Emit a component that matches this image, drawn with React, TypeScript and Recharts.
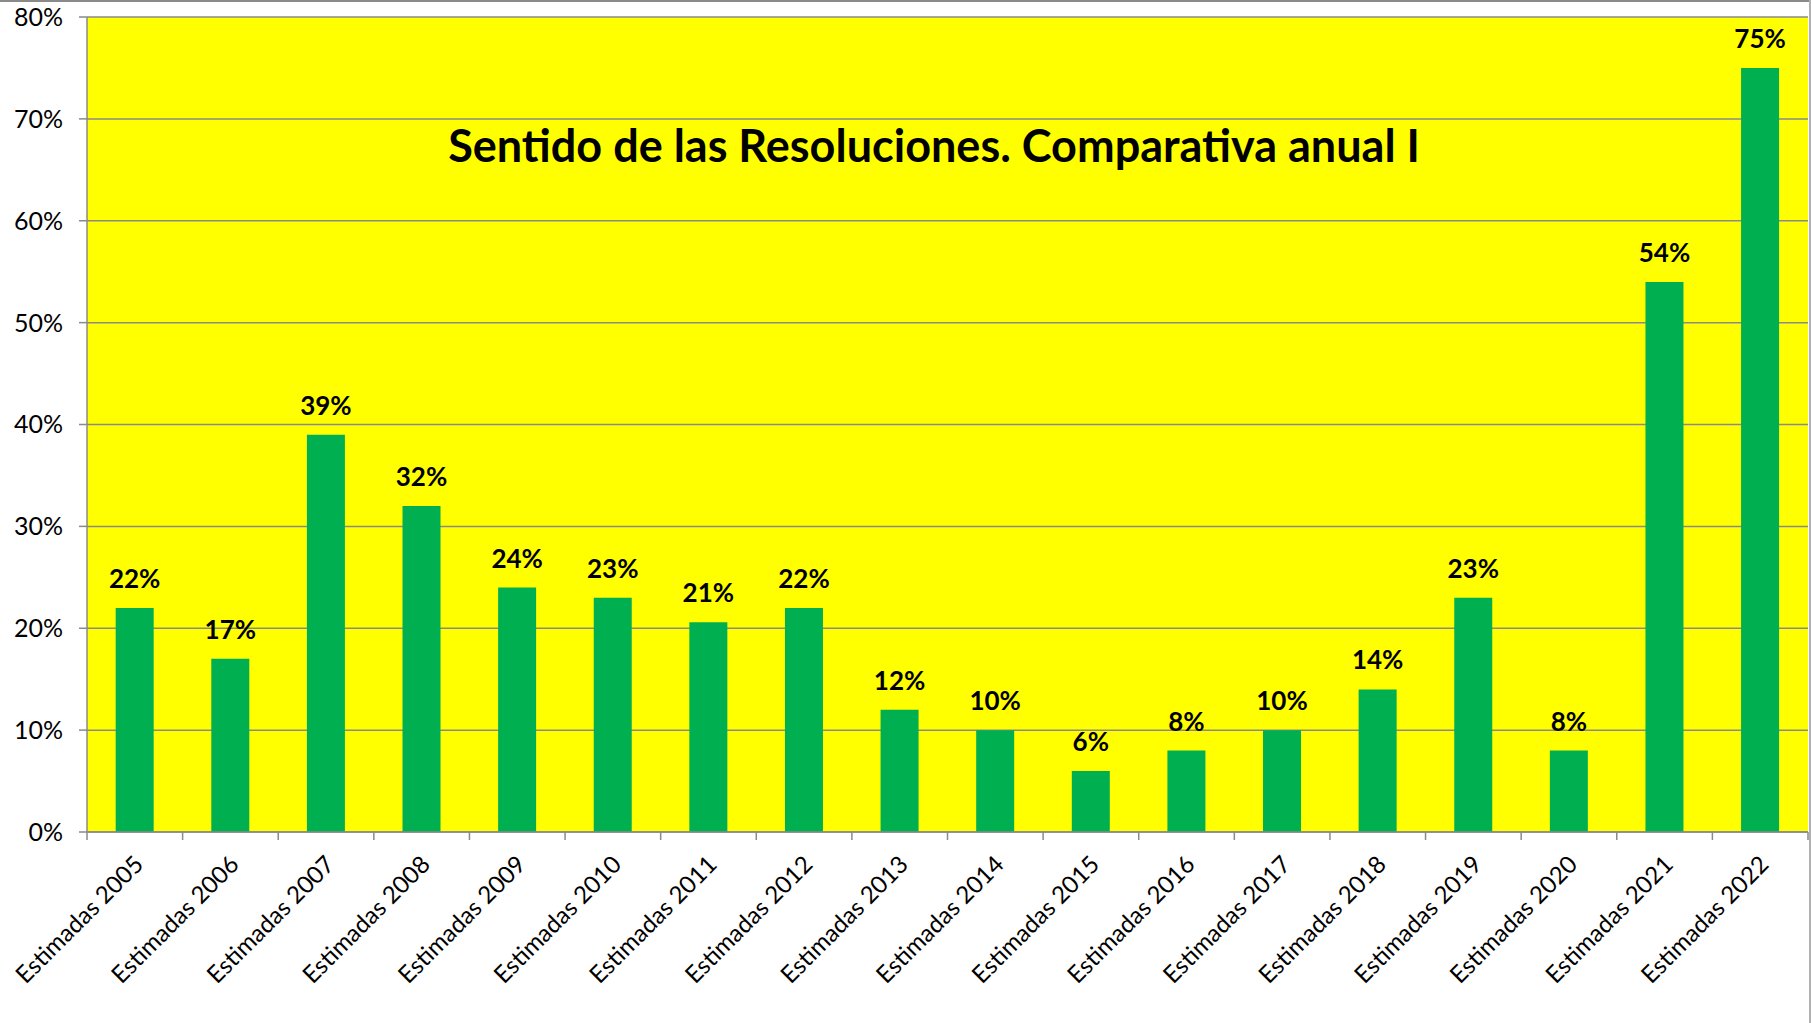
import React from 'react';
import { BarChart, Bar, XAxis, YAxis, CartesianGrid, LabelList } from 'recharts';

const categories = [
  'Estimadas 2005', 'Estimadas 2006', 'Estimadas 2007', 'Estimadas 2008', 'Estimadas 2009',
  'Estimadas 2010', 'Estimadas 2011', 'Estimadas 2012', 'Estimadas 2013', 'Estimadas 2014',
  'Estimadas 2015', 'Estimadas 2016', 'Estimadas 2017', 'Estimadas 2018', 'Estimadas 2019',
  'Estimadas 2020', 'Estimadas 2021', 'Estimadas 2022',
];
const values = [22, 17, 39, 32, 24, 23, 20.6, 22, 12, 10, 6, 8, 10, 14, 23, 8, 54, 75];
const yTicks = [0, 10, 20, 30, 40, 50, 60, 70, 80];
const title = 'Sentido de las Resoluciones. Comparativa anual I';

const data = categories.map((name, i) => ({ name, value: values[i] }));

const W = 1811;
const H = 1023;
const PLOT_LEFT = 87;
const PLOT_RIGHT = 1808;
const STEP = (PLOT_RIGHT - PLOT_LEFT) / categories.length;
const GRAY = '#8a8a8a';
const FONT = 'Lato, "Noto Sans", sans-serif';

// Excel style: tick marks between categories, labels rotated -45
const XTick = (props: any) => {
  const { x, y, payload, index } = props;
  const half = STEP / 2;
  const tx = x + 4;
  const ty = y + 28;
  return (
    <g>
      <line x1={x - half} x2={x - half} y1={y} y2={y + 8} stroke={GRAY} strokeWidth={1.5} />
      {index === categories.length - 1 && (
        <line x1={x + half} x2={x + half} y1={y} y2={y + 8} stroke={GRAY} strokeWidth={1.5} />
      )}
      <text
        x={tx}
        y={ty}
        transform={`rotate(-45, ${tx}, ${ty})`}
        textAnchor="end"
        dy="0.35em"
        fontSize={24}
        fontFamily={FONT}
        fill="#000"
      >
        {payload.value}
      </text>
    </g>
  );
};

export default function App() {
  return (
    <div
      style={{
        position: 'absolute',
        left: 0,
        top: 0,
        width: W,
        height: H,
        background: '#fff',
        overflow: 'hidden',
      }}
    >
      <div style={{ position: 'absolute', left: 0, top: 0, width: W, height: 2, background: GRAY }} />
      <div style={{ position: 'absolute', left: 1809, top: 0, width: 2, height: H, background: '#b0b0b0' }} />
      <BarChart
        width={W}
        height={H}
        data={data}
        margin={{ top: 17, right: W - PLOT_RIGHT, bottom: 0, left: 0 }}
        barCategoryGap="30%"
      >
        <CartesianGrid vertical={false} fill="#FFFF00" fillOpacity={1} stroke={GRAY} strokeWidth={1.5} />
        <XAxis
          dataKey="name"
          height={191}
          interval={0}
          tickLine={false}
          tickSize={0}
          tickMargin={0}
          axisLine={{ stroke: GRAY, strokeWidth: 1.5 }}
          tick={<XTick />}
        />
        <YAxis
          width={PLOT_LEFT}
          domain={[0, 80]}
          ticks={yTicks}
          interval={0}
          tickFormatter={(v: number) => `${v}%`}
          tickSize={8}
          tickMargin={16}
          axisLine={{ stroke: GRAY, strokeWidth: 1.5 }}
          tickLine={{ stroke: GRAY, strokeWidth: 1.5 }}
          tick={{ fill: '#000', fontSize: 25, fontFamily: FONT }}
        />
        <Bar dataKey="value" fill="#00B050" isAnimationActive={false}>
          <LabelList
            dataKey="value"
            position="top"
            offset={20}
            formatter={(v: any) => `${Math.round(Number(v))}%`}
            style={{ fill: '#000', fontSize: 26, fontWeight: 700, fontFamily: FONT }}
          />
        </Bar>
      </BarChart>
      <div
        style={{
          position: 'absolute',
          left: 934,
          top: 145,
          transform: 'translate(-50%, -50%)',
          whiteSpace: 'nowrap',
          fontFamily: FONT,
          fontWeight: 700,
          fontSize: 45,
          color: '#000',
        }}
      >
        {title}
      </div>
    </div>
  );
}
